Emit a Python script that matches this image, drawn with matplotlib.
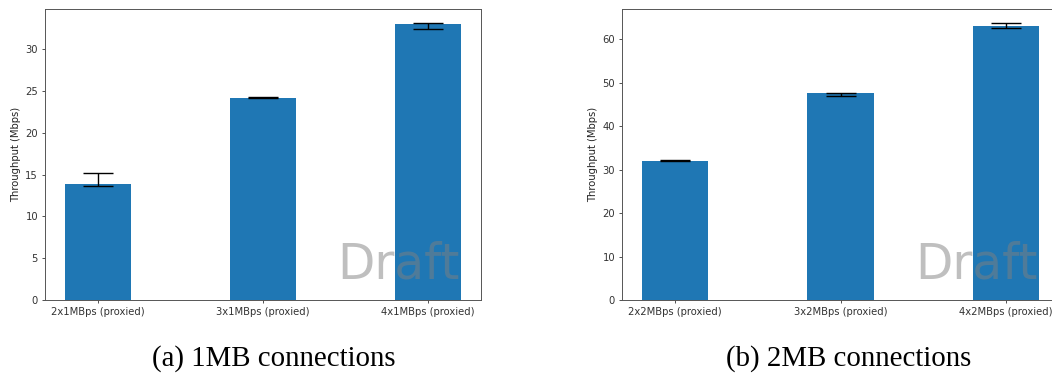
import numpy as np
import matplotlib.pyplot as plt

# 1MB connections
labels_1mb = ['2x1MBps (proxied)', '3x1MBps (proxied)', '4x1MBps (proxied)']
tput_1mb = [13.82, 24.17, 32.94]
err_lo_1mb = [0.24, 0.05, 0.56]
err_hi_1mb = [1.32, 0.05, 0.19]

# 2MB connections
labels_2mb = ['2x2MBps (proxied)', '3x2MBps (proxied)', '4x2MBps (proxied)']
tput_2mb = [32.08, 47.73, 62.92]
err_lo_2mb = [0.1, 0.78, 0.4]
err_hi_2mb = [0.1, 0.0, 0.83]

captions = ['(a) 1MB connections', '(b) 2MB connections']

W, H = 1052, 387
fig = plt.figure(figsize=(W / 100, H / 100), dpi=100)

def draw_panel(ax, labels, vals, lo, hi):
    x = np.arange(len(labels))
    ax.bar(x, vals, width=0.4, color='#1f77b4',
           yerr=[lo, hi], capsize=10.8,
           error_kw=dict(ecolor='black', elinewidth=1.0, capthick=1.0))
    ax.set_xticks(x)
    ax.set_xticklabels(labels)
    ax.set_ylabel('Throughput (Mbps)', fontsize=7.2, labelpad=3, color='#222222')
    ax.tick_params(labelsize=7.2, length=2.5, width=0.6, pad=2.5, colors='#333333')
    for s in ax.spines.values():
        s.set_linewidth(0.7)
        s.set_color('#555555')
    # watermark
    ax.text(0.95, 0.075, 'Draft', transform=ax.transAxes, fontsize=35,
            color='gray', alpha=0.5, ha='right', va='baseline')

ax1 = fig.add_axes([45 / W, (H - 300) / H, 436 / W, 291 / H])
draw_panel(ax1, labels_1mb, tput_1mb, err_lo_1mb, err_hi_1mb)

ax2 = fig.add_axes([622 / W, (H - 300) / H, 437 / W, 291 / H])
draw_panel(ax2, labels_2mb, tput_2mb, err_lo_2mb, err_hi_2mb)

fig.text(274 / W, 21 / H, captions[0], family='Liberation Serif',
         fontsize=20.8, ha='center', va='baseline')
fig.text(849 / W, 21 / H, captions[1], family='Liberation Serif',
         fontsize=20.8, ha='center', va='baseline')

fig.savefig('out.png', dpi=100)
